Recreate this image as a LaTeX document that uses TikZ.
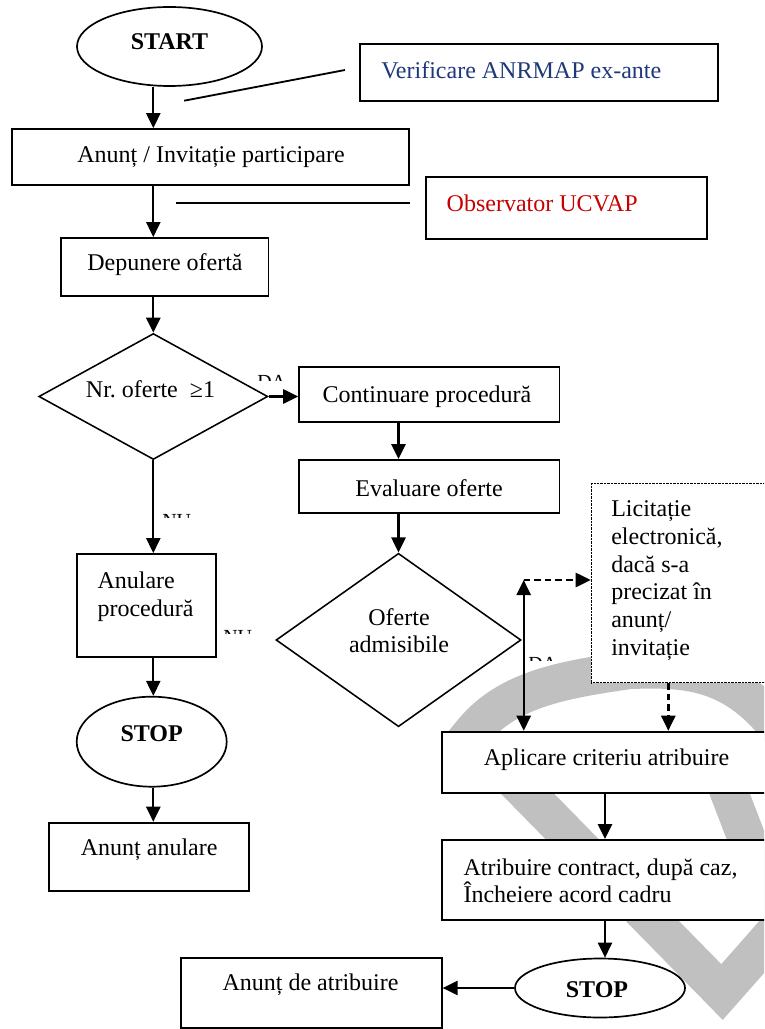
\documentclass[tikz,border=0pt]{standalone}
\usepackage{fontspec}
\setmainfont{Liberation Serif}
\usetikzlibrary{shapes.geometric,arrows.meta}
\definecolor{navytxt}{RGB}{31,56,122}
\definecolor{redtxt}{RGB}{200,0,0}
\definecolor{wmgray}{RGB}{192,192,192}

\begin{document}
\begin{tikzpicture}[x=0.025cm, y=-0.025cm,
    sz/.style 2 args={minimum width=#1*0.025cm, minimum height=#2*0.025cm},
    box/.style={draw, fill=white, line width=1.3pt, inner sep=0pt},
    oval/.style={ellipse, draw, fill=white, line width=1.2pt, inner sep=0pt},
    dec/.style={diamond, draw, fill=white, line width=1.1pt, inner sep=0pt},
    txt/.style={inner sep=0pt, align=left, font=\fontsize{17.07}{19.7}\selectfont},
    bold/.style={txt, font=\fontsize{17.07}{19.7}\selectfont\bfseries},
    frag/.style={inner sep=0pt, anchor=north west, font=\fontsize{14.2}{16}\selectfont},
    arr/.style={line width=1.7pt, -{Triangle[length=10.7pt, width=10pt]}},
    darr/.style={line width=1.7pt, {Triangle[length=10.7pt, width=10pt]}-{Triangle[length=10.7pt, width=10pt]}},
    dasharr/.style={arr, dash pattern=on 4.7pt off 2.8pt},
    wm/.style={wmgray, line width=0.95cm, line join=miter}]
    \useasboundingbox (0,0) rectangle (764,1029);
    \clip (0,0) rectangle (764,1029);

    % Watermark
    \draw[wm] (790,745) .. controls (740,670) and (690,668) .. (630,670)
        .. controls (560,680) and (505,690) .. (470,735) -- (722,992) -- (812,890);
    \draw[wm] (712,748) -- (775,912);

    % Columns of the arrows
    \coordinate (colA) at (153.3,0);
    \coordinate (colB) at (398.5,0);
    \coordinate (colC) at (605,0);
    \coordinate (colD) at (668.3,0);

    % Left column
    \node[oval, sz={185}{79}] (start) at (169.5,46.5) {};
    \node[bold] (startT) at (169.5,42) {START};
    \node[box, sz={358.7}{56.7}] (verif) at (539,72.3) {};
    \node[txt, anchor=west, navytxt] (verifT) at (381,70) {Verificare ANRMAP ex-ante};
    \node[box, sz={397.2}{56.3}] (anunt) at (210.8,157.2) {};
    \node[txt] (anuntT) at (211,157) {Anunț / Invitație participare};
    \node[box, sz={280.6}{61.4}] (obs) at (566.3,208) {};
    \node[txt, anchor=west, redtxt] (obsT) at (446.4,203) {Observator UCVAP};
    \node[box, sz={207.5}{57.7}] (dep) at (164.75,266.85) {};
    \node[txt] (depT) at (165,265) {Depunere ofertă};
    \node[dec, sz={229}{126}] (d1) at (153.3,396.5) {};
    \node[txt] (d1T) at (150.5,389) {Nr.\ oferte \ ≥1};
    \node[box, sz={139}{103.3}] (anul) at (146.2,605.65) {};
    \node[txt, anchor=west] (anulT) at (97.3,596.4) {Anulare\\procedură};
    \node[oval, sz={150}{90}] (stop1) at (151.7,741.7) {};
    \node[bold] (stop1T) at (151.7,733.3) {STOP};
    \node[box, sz={200}{68}] (anula) at (149.3,856.7) {};
    \node[txt] (anulaT) at (149.2,850) {Anunț anulare};

    % Right column
    \node[box, sz={260.3}{55}] (cont) at (429.35,394.2) {};
    \node[txt] (contT) at (427,397) {Continuare procedură};
    \node[box, sz={260.3}{52.7}] (eval) at (429.35,486.35) {};
    \node[txt] (evalT) at (429,488) {Evaluare oferte};
    \node[dec, sz={245}{173.4}] (d2) at (398.5,640) {};
    \node[txt, align=center] (d2T) at (399,630.6) {Oferte\\admisibile};
    \node[box, fill=white, line width=0.9pt, dash pattern=on 0.5pt off 0.5pt, sz={198.6}{199.4}] (lic) at (690.7,583) {};
    \node[txt, anchor=west] (licT) at (611,580.6) {Licitație\\electronică,\\dacă s-a\\precizat în\\anunț/\\invitație};
    \node[box, sz={348}{61.6}] (apl) at (616,762.5) {};
    \node[txt] (aplT) at (606.5,760) {Aplicare criteriu atribuire};
    \node[box, sz={348.3}{80}] (atr) at (615.85,880) {};
    \node[txt, anchor=west] (atrT) at (463.3,880.7) {Atribuire contract, după caz,\\Încheiere acord cadru};
    \node[oval, sz={170}{59}] (stop2) at (600,988) {};
    \node[bold] (stop2T) at (597,990) {STOP};
    \node[box, sz={260.4}{69.7}] (ada) at (311.5,993.15) {};
    \node[txt] (adaT) at (310.5,985) {Anunț de atribuire};

    % Cut labels
    \begin{scope}
        \clip (250,370) rectangle (290,380.5);
        \node[frag] (da1) at (257,375) {DA};
    \end{scope}
    \begin{scope}
        \clip (155,509) rectangle (200,517.5);
        \node[frag] (nu1) at (162,514) {NU};
    \end{scope}
    \begin{scope}
        \clip (215,625) rectangle (262,633.5);
        \node[frag] (nu2) at (223,630) {NU};
    \end{scope}
    \begin{scope}
        \clip (520,652) rectangle (560,660.5);
        \node[frag] (da2) at (528,657) {DA};
    \end{scope}

    % Side lines
    \coordinate (verifL) at (184.2,100.7);
    \coordinate (verifR) at (345,70);
    \draw[line width=1.3pt] (verifL) -- (verifR);
    \coordinate (obsL) at (176.4,203.3);
    \coordinate (obsR) at (410.3,203.3);
    \draw[line width=1.3pt] (obsL) -- (obsR);

    % Arrows
    \draw[arr] (start.south -| colA) -- (anunt.north -| colA);
    \draw[arr] (anunt.south -| colA) -- (dep.north -| colA);
    \draw[arr] (dep.south -| colA) -- (d1.north);
    \draw[arr] (d1.east) -- (d1.east -| cont.west);
    \draw[arr] (d1.south) -- (d1.south |- anul.north);
    \draw[arr] (anul.south -| colA) -- (stop1.north -| colA);
    \draw[arr] (stop1.south -| colA) -- (anula.north -| colA);
    \draw[arr] (cont.south -| colB) -- (eval.north -| colB);
    \draw[arr] (eval.south -| colB) -- (d2.north);
    \coordinate (split) at (523.7,580);
    \draw[darr] (split) -- (split |- apl.north);
    \draw[dasharr] (split) -- (split -| lic.west);
    \draw[dasharr] (lic.south -| colD) -- (apl.north -| colD);
    \draw[arr] (apl.south -| colC) -- (atr.north -| colC);
    \draw[arr] (atr.south -| colC) -- (stop2.north -| colC);
    \draw[arr] (stop2.west) -- (stop2.west -| ada.east);
\end{tikzpicture}
\end{document}
